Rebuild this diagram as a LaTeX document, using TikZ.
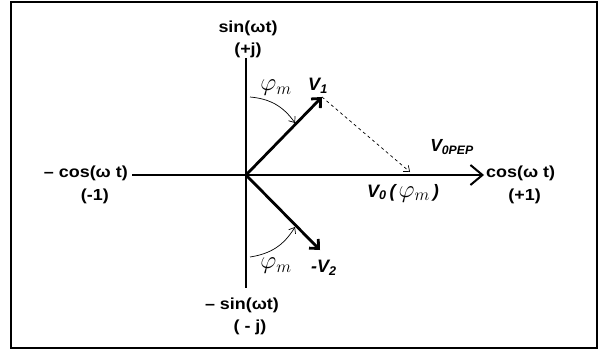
\documentclass[tikz,border=0pt]{standalone}
\usepackage{fontspec}
\setmainfont{Liberation Sans}
\newfontfamily\axfont[FakeStretch=1.12]{Liberation Sans}
\usepackage{amsmath}
\usetikzlibrary{arrows.meta, positioning}

\begin{document}
\begin{tikzpicture}[x=1pt, y=-1pt,
    axis/.style={line width=1.6pt},
    vec/.style={line width=2.8pt, -{Straight Barb[length=7pt, width=13pt]}},
    axlabel/.style={font=\axfont\bfseries\fontsize{16}{18}\selectfont, inner sep=0pt},
    vlabel/.style={font=\bfseries\itshape\fontsize{18}{20}\selectfont, inner sep=0pt},
    anglbl/.style={font=\fontsize{24}{26}\selectfont, inner sep=0pt},
    thinarr/.style={line width=0.7pt, -{Straight Barb[length=5pt, width=8pt]}}
]
\useasboundingbox (0,0) rectangle (603,353);
\draw[line width=1.2pt] (11,2) rectangle (597,348);

% axes
\coordinate (O) at (246,175);
\coordinate (xl) at (132,175);
\coordinate (xr) at (484,175);
\coordinate (yt) at (246,58);
\coordinate (yb) at (246,288);
\draw[axis, line width=2.2pt, -{Straight Barb[length=12pt, width=20pt, line width=2pt]}] (xl) -- (xr);
\draw[axis] (yt) -- (yb);

% axis labels
\node[axlabel, anchor=west] (cospos) at (486,173) {cos(ω t)};
\node[axlabel, below=8pt of cospos, xshift=4pt] {(+1)};
\node[axlabel, anchor=east] (cosneg) at (128,173) {– cos(ω t)};
\node[axlabel, below=8pt of cosneg, xshift=9pt] {(-1)};
\node[axlabel] (sinpos) at (248,28) {sin(ωt)};
\node[axlabel, below=7pt of sinpos] {(+j)};
\node[axlabel] (sinneg) at (242,305) {– sin(ωt)};
\node[axlabel, below=7pt of sinneg, xshift=8pt] {( - j)};

% vectors
\coordinate (v1) at (322,97);
\coordinate (v2) at (320,250);
\coordinate (v0) at (410,172);
\draw[vec] (O) -- (v1);
\draw[vec] (O) -- (v2);
\draw[dashed, line width=0.7pt, -{Straight Barb[length=5pt, width=8pt]}] (v1) -- (v0);

\node[vlabel] at (318,86) {V\textsubscript{1}};
\node[vlabel] at (324,268) {-V\textsubscript{2}};
\node[vlabel, font=\bfseries\itshape\fontsize{17.5}{19}\selectfont] at (452,147) {V\textsubscript{0PEP}};
\node[vlabel] at (403,193) {V\textsubscript{0}\,(\,\textup{\fontsize{24}{26}\selectfont$\varphi_m$}\,)};

% angles
\coordinate (a1s) at (250,97);
\coordinate (a1e) at (295,123);
\coordinate (a2s) at (250,257);
\coordinate (a2e) at (295,227);
\draw[thinarr] (a1s) to[bend left=25] (a1e);
\draw[thinarr] (a2s) to[bend right=25] (a2e);
\node[anglbl] at (276,88) {$\varphi_m$};
\node[anglbl] at (276,266) {$\varphi_m$};
\end{tikzpicture}
\end{document}
